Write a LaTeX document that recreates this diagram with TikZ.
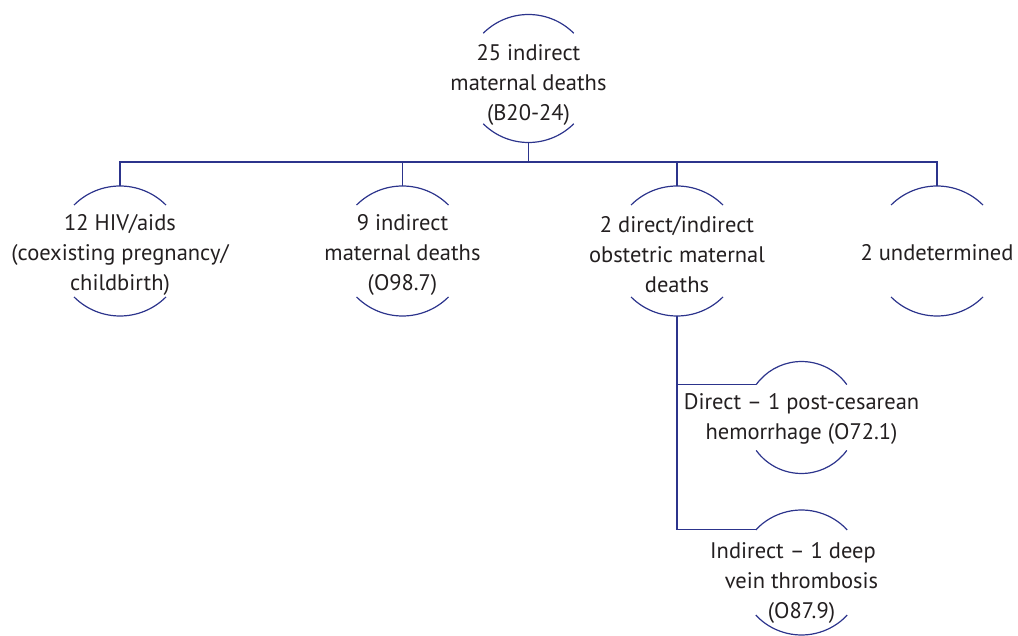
\documentclass[tikz,border=0pt]{standalone}
\usepackage{fontspec}
\setmainfont{PT Sans}
\usepackage{tikz}
\definecolor{linkblue}{RGB}{44,52,140}
\definecolor{textgray}{RGB}{35,31,32}
\tikzset{
  ring/.style={circle,inner sep=0pt,outer sep=0pt},
  caption/.style={align=center,text=textgray,font=\fontsize{22.5}{30}\selectfont},
  link/.style={draw=linkblue,line width=1.2pt}
}

\begin{document}
\begin{tikzpicture}[x=1pt,y=-1pt]
 \useasboundingbox (0,0) rectangle (1018,636);

 % top of the tree
 \node[ring,minimum size=128pt,label={[caption,yshift=-6pt]center:{25 indirect\\maternal deaths\\(B20-24)}}] (top) at (528.5,78.5) {};
 \draw[link] (top.45) arc (45:135:64pt);
 \draw[link] (top.225) arc (225:315:64pt);

 % second row
 \node[ring,minimum size=130pt,label={[caption,yshift=-4pt]center:{12 HIV/aids\\(coexisting pregnancy/\\childbirth)}}] (hiv) at (120,251) {};
 \node[ring,minimum size=130pt,label={[caption,yshift=-4pt]center:{9 indirect\\maternal deaths\\(O98.7)}}] (indirect) at (402.5,251) {};
 \node[ring,minimum size=130pt,label={[caption,yshift=-4pt]center:{2 direct/indirect\\obstetric maternal\\deaths}}] (obstetric) at (677,251) {};
 \node[ring,minimum size=130pt,label={[caption,yshift=-2pt]center:{2 undetermined}}] (undet) at (937,251) {};
 \draw[link] (hiv.45) arc (45:135:65pt);
 \draw[link] (hiv.225) arc (225:315:65pt);
 \draw[link] (indirect.45) arc (45:135:65pt);
 \draw[link] (indirect.225) arc (225:315:65pt);
 \draw[link] (obstetric.45) arc (45:135:65pt);
 \draw[link] (obstetric.225) arc (225:315:65pt);
 \draw[link] (undet.45) arc (45:135:65pt);
 \draw[link] (undet.225) arc (225:315:65pt);

 % third row
 \node[ring,minimum size=112pt,label={[caption,yshift=-1pt]center:{Direct -- 1 post-cesarean\\hemorrhage (O72.1)}}] (direct) at (801.5,417.5) {};
 \node[ring,minimum size=125pt,label={[caption,yshift=-10pt]center:{Indirect -- 1 deep\hspace*{17pt}\\vein thrombosis\hspace*{33pt}\\(O87.9)}}] (dvt) at (801.5,572.5) {};
 \draw[link] (direct.36) arc (36:144:56pt);
 \draw[link] (direct.216) arc (216:324:56pt);
 \draw[link] (dvt.43) arc (43:137:62.5pt);
 \draw[link] (dvt.223) arc (223:317:62.5pt);

 % connectors
 \coordinate (bar) at (528.5,162);
 \draw[link] (top.south) -- (bar);
 \draw[link] (hiv.north) |- (bar) -| (undet.north);
 \draw[link] (indirect.north) -- (indirect.north |- bar);
 \draw[link] (obstetric.north) -- (obstetric.north |- bar);
 \draw[link] (obstetric.south) |- (dvt.137);
 \draw[link] (obstetric.south) |- (direct.144);
\end{tikzpicture}
\end{document}
